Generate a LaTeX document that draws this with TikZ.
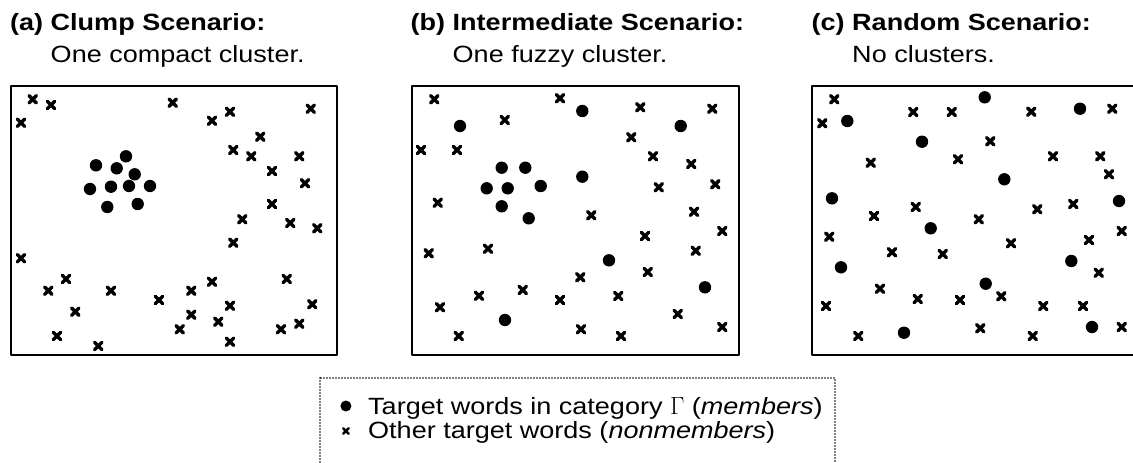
\documentclass[tikz,border=0pt]{standalone}
\usepackage{fontspec}
\setmainfont{Liberation Sans}[FakeStretch=1.15]
\usetikzlibrary{calc}

\tikzset{
  member/.pic={\fill (0,0) circle (6.2);},
  nonmember/.pic={\draw[line width=3.4pt] (-3.7,-3.7) -- (3.7,3.7) (-3.7,3.7) -- (3.7,-3.7);},
  keymember/.pic={\fill (0,0) circle (5.5);},
  keynonmember/.pic={\draw[line width=2.6pt] (-2.7,-2.7) -- (2.7,2.7) (-2.7,2.7) -- (2.7,-2.7);},
  panel/.style={line width=1.8pt},
  caption/.style={anchor=base west, inner sep=0pt, font=\fontsize{23.5}{28}\selectfont},
}

\begin{document}
\begin{tikzpicture}[line cap=round,line join=round,x=1pt,y=-1pt]
\useasboundingbox (0,0) rectangle (1133,463);
\clip (0,0) rectangle (1133,463);
% captions
\node[caption] (titleA) at (10,30) {\textbf{(a) Clump Scenario:}};
\node[caption] (subA) at ($(titleA.base west)+(0,32)$) {\hphantom{\textbf{(a) }}One compact cluster.};
\node[caption] (titleB) at (410.5,30) {\textbf{(b) Intermediate Scenario:}};
\node[caption] (subB) at ($(titleB.base west)+(0,32)$) {\hphantom{\textbf{(b) }}One fuzzy cluster.};
\node[caption] (titleC) at (811.5,30) {\textbf{(c) Random Scenario:}};
\node[caption] (subC) at ($(titleC.base west)+(0,32)$) {\hphantom{\textbf{(c) }}No clusters.};
% panel boxes
\draw[panel] (11,86) rectangle (337,355);
\draw[panel] (412,86) rectangle (739,355);
\draw[panel] (812,86) rectangle (1140,355);
% (a) clump
\foreach \x/\y in {32.7/99.3,51/105,21/122.7,172.7/102.7,212/120.7,230/111.7,310.7/108.7,
  260.3/136.7,233.3/150,251.3/156.3,299.3/156.3,272/171,305/183.3,272/204,242.3/219.3,
  290.3/223,317.3/228.3,233.3/242.7,21/258.3,66/279,48.3/290.7,111/290.7,75.3/311.7,
  57/336,98.3/346,159/300,191.3/290.7,212/281.7,191.3/314.7,179.7/329.3,230/305.7,
  218.3/321.7,230/341.7,286.7/279,312.3/304.3,299.3/323.7,281/329.3}
  \pic at (\x,\y) {nonmember};
\foreach \x/\y in {126/156.3,96/165.3,116.7/168.3,134.7/174.3,90/189,111/186.7,
  129/186,150/186,107.3/207,137.7/204}
  \pic at (\x,\y) {member};
% (b) intermediate
\foreach \x/\y in {434.3/99.3,560/98.3,504.7/120,421/150,457/150,640.3/107.3,712.3/108.7,
  631.3/137.3,653/156.3,691.3/164,715.3/184.3,658.7/187.3,437.7/202.7,591.3/215.3,
  694/211.7,722.3/231,645/236,695.7/250.7,428.7/253.3,488/248.7,580.3/277.3,647.7/272,
  479/295.7,522.7/290,560/300,618.3/296,440/307.3,677.7/314,458.7/336,581/329.3,
  621/336,722.3/327}
  \pic at (\x,\y) {nonmember};
\foreach \x/\y in {582.3/111,460/126,680.7/126,501.7/167.7,525.3/167.7,582.3/176.7,
  486.7/188.3,507.7/188.3,540.7/186,501.7/206.3,528.7/218.3,609/260.3,705/287.3,505/320}
  \pic at (\x,\y) {member};
% (c) random
\foreach \x/\y in {834.3/99.3,822.3/123.3,913.3/112,951.7/112,1031.3/111.7,1112.3/108.7,
  990.3/141.3,870.7/162.7,958/159.3,1053/156.3,1100.3/156.3,1109/174.3,915.7/207,
  874/216,978.7/219.3,1037.3/209.3,1073.3/204,829.3/236.7,1121.7/231,892/252.3,
  942.7/254,1011/243.3,1089/240,1098.7/272.7,880/288.7,917.7/299,960/300,1001.3/296.3,
  826/306,1043.3/306,1083/306,858.3/336,980.3/328.3,1032.7/336,1121.7/327}
  \pic at (\x,\y) {nonmember};
\foreach \x/\y in {984.7/97.3,1080/108.7,847.3/121,922/141.7,1004.3/179.3,832/198.3,
  1119/201,930.7/228.3,841/267.3,1071.3/261,985.7/283.7,904/332.7,1092/327}
  \pic at (\x,\y) {member};
% legend
\draw[line width=1.8pt,dash pattern=on 0pt off 3pt] (320,378) rectangle (835,480);
\pic at (345.9,406) {keymember};
\pic at (345.9,431) {keynonmember};
\node[caption] (keyA) at (368,414.5) {Target words in category $\Gamma$ (\textit{members})};
\node[caption] (keyB) at (368,438.5) {Other target words (\textit{nonmembers})};
\end{tikzpicture}
\end{document}
